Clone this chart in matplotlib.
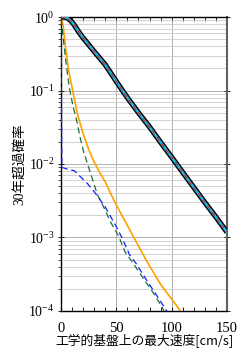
import matplotlib
matplotlib.use('Agg')
import matplotlib.pyplot as plt
from matplotlib.ticker import LogLocator, MultipleLocator, NullFormatter

# 工学的基盤上の最大速度 [cm/s]
x_main = [0, 3, 6, 9, 12, 16, 20, 23, 28, 33, 40, 45, 50, 55, 60, 70, 80,
          90, 100, 110, 120, 130, 140, 150]
p_main = [1.0, 1.0, 0.97, 0.89, 0.78, 0.63, 0.52, 0.46, 0.37, 0.30, 0.225,
          0.173, 0.133, 0.103, 0.08, 0.05, 0.032, 0.0198, 0.0124, 0.0077,
          0.0048, 0.003, 0.0019, 0.00118]

x_orange = [0, 1, 2, 3, 4, 5, 7, 10, 12, 15, 20, 25, 30, 35, 40, 47, 55,
            67, 77, 90, 100, 108, 115]
p_orange = [1.0, 0.92, 0.75, 0.55, 0.40, 0.30, 0.185, 0.11, 0.078, 0.047,
            0.026, 0.0158, 0.0106, 0.0077, 0.0057, 0.0034, 0.002, 0.00093,
            0.00049, 0.00023, 0.000145, 0.0001, 0.000068]

x_green = [0, 1, 2, 4, 6, 8, 11, 14, 17, 20, 24, 28, 33, 37, 45, 52, 58,
           65, 75, 83, 91, 93, 100]
p_green = [0.95, 0.72, 0.52, 0.28, 0.16, 0.10, 0.06, 0.04, 0.024, 0.0155,
           0.01, 0.0065, 0.0038, 0.0029, 0.0016, 0.00105, 0.00063, 0.00045,
           0.00027, 0.00018, 0.000115, 0.0001, 0.00006]

x_blue = [0, 0.8, 5, 12, 19, 24, 30, 40, 50, 55, 62, 68, 79, 88, 95.5, 100]
p_blue = [1.0, 0.009, 0.0086, 0.0081, 0.0064, 0.0054, 0.0042, 0.0026,
          0.0014, 0.001, 0.00058, 0.00044, 0.00024, 0.00015, 0.0001, 0.00007]

y_ticks = [1e0, 1e-1, 1e-2, 1e-3, 1e-4]
y_labels = ['$\\mathregular{10^{0}}$', '$\\mathregular{10^{-1}}$',
            '$\\mathregular{10^{-2}}$', '$\\mathregular{10^{-3}}$',
            '$\\mathregular{10^{-4}}$']
x_ticks = [0, 50, 100, 150]

plt.rcParams['mathtext.fontset'] = 'stix'
plt.rcParams['font.family'] = ['Liberation Serif', 'Noto Sans CJK JP']

fig = plt.figure(figsize=(2.47, 3.57), dpi=100)
ax = fig.add_axes([0.247, 0.129, 0.672, 0.823])

ax.plot(x_orange, p_orange, color='#ffa000', lw=1.2, zorder=3)
ax.plot(x_green, p_green, color='#1a6e35', lw=0.9, dashes=(5, 3), zorder=3)
ax.plot(x_blue, p_blue, color='#1020ff', lw=0.9, dashes=(5, 3), zorder=3)

ax.plot(x_main, p_main, color='black', lw=3.8, zorder=4,
        solid_capstyle='butt')
ax.plot(x_main, p_main, color='#1ab8e8', lw=1.8, zorder=5)
ax.plot(x_main, p_main, color='#e0202a', lw=0.8, dashes=(4, 3), zorder=6)

ax.set_yscale('log')
ax.set_xlim(0, 150)
ax.set_ylim(1e-4, 1)
ax.set_yticks(y_ticks)
ax.set_yticklabels(y_labels, fontsize=10)
ax.yaxis.set_minor_locator(LogLocator(base=10, subs=range(2, 10)))
ax.yaxis.set_minor_formatter(NullFormatter())
ax.set_xticks(x_ticks)
ax.set_xticklabels([str(v) for v in x_ticks], fontsize=10.5)
ax.xaxis.set_minor_locator(MultipleLocator(10))

ax.grid(True, which='major', color='#b0b0b0', lw=0.7)
ax.grid(True, which='minor', axis='y', color='#cccccc', lw=0.6)

ax.tick_params(axis='x', which='both', direction='in', top=True,
               length=3, width=0.6, pad=8)
ax.tick_params(axis='y', which='major', direction='inout', right=True,
               length=5, width=0.6, pad=2)
ax.tick_params(axis='y', which='minor', direction='out', right=False,
               length=2, width=0.5)
for side in ['left', 'bottom', 'top']:
    ax.spines[side].set_linewidth(1.0)
ax.spines['right'].set_color('#606060')
ax.spines['right'].set_linewidth(1.5)

ax.set_xlabel('工学的基盤上の最大速度[cm/s]', fontsize=9.2,
              family=['Noto Sans CJK JP'], labelpad=-1)
ax.set_ylabel('30年超過確率', fontsize=9.8,
              family=['Liberation Serif', 'Noto Sans CJK JP'], labelpad=1)

fig.savefig('out.png', dpi=100)
